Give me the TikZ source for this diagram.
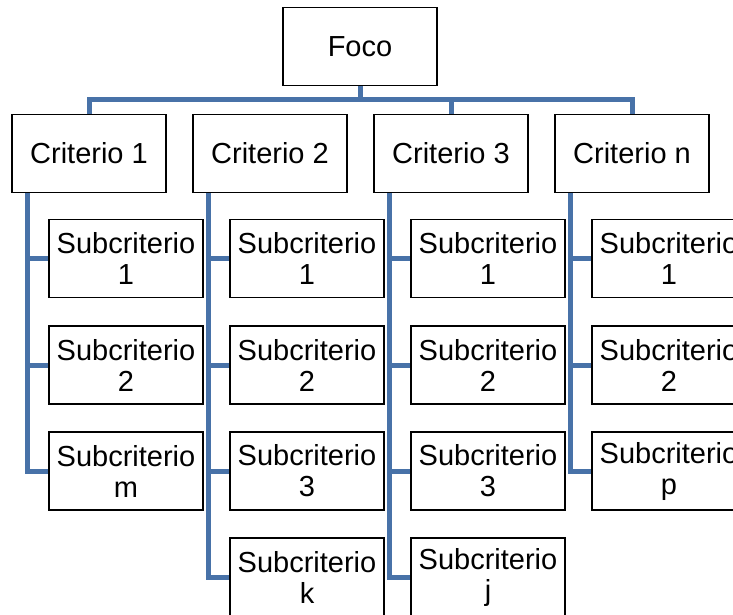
\documentclass[tikz,border=0pt]{standalone}
\usepackage{fontspec}
\setmainfont{Liberation Sans}
\definecolor{connblue}{RGB}{72,114,168}
\tikzset{
  box/.style={draw=black, line width=1.8pt, fill=white, minimum width=154pt, minimum height=78pt, inner sep=0pt, align=center, font=\fontsize{29}{31}\selectfont},
  conn/.style={draw=connblue, line width=5pt}
}
\begin{document}
\begin{tikzpicture}[x=1pt,y=-1pt]
\useasboundingbox (0,0) rectangle (733,615);
\clip (0,0) rectangle (733,615);
% top
\node[box] (foco) at (360,46.5) {Foco};
\node[box] (c1) at (89,153.5) {Criterio 1};
\node[box] (c2) at (270,153.5) {Criterio 2};
\node[box] (c3) at (451,153.5) {Criterio 3};
\node[box] (cn) at (632,153.5) {Criterio n};
\coordinate (bar) at (0,100);
% column 1
\node[box] (s11) at (126,258.5) {Subcriterio\\1};
\node[box] (s12) at (126,365) {Subcriterio\\2};
\node[box] (s1m) at (126,471) {Subcriterio\\m};
% column 2
\node[box] (s21) at (307,258.5) {Subcriterio\\1};
\node[box] (s22) at (307,365) {Subcriterio\\2};
\node[box] (s23) at (307,471) {Subcriterio\\3};
\node[box] (s2k) at (307,577) {Subcriterio\\k};
% column 3
\node[box] (s31) at (488,258.5) {Subcriterio\\1};
\node[box] (s32) at (488,365) {Subcriterio\\2};
\node[box] (s33) at (488,471) {Subcriterio\\3};
\node[box] (s3j) at (488,577) {Subcriterio\\j};
% column 4
\node[box] (s41) at (669,258.5) {Subcriterio\\1};
\node[box] (s42) at (669,365) {Subcriterio\\2};
\node[box] (s4p) at (669,471) {Subcriterio\\p};
% connectors top
\draw[conn] (foco.south) -- (foco.south |- bar);
\draw[conn] (c1.north) -- (c1.north |- bar) -- (cn.north |- bar) -- (cn.north);
\draw[conn] (c3.north |- bar) -- (c3.north);
% column lines
\coordinate (l1) at ([xshift=16pt]c1.south west);
\coordinate (l2) at ([xshift=16pt]c2.south west);
\coordinate (l3) at ([xshift=16pt]c3.south west);
\coordinate (l4) at ([xshift=16pt]cn.south west);
\draw[conn] (l1) |- (s1m.west);
\draw[conn] (s11.west) -- (s11.west -| l1);
\draw[conn] (s12.west) -- (s12.west -| l1);
\draw[conn] (l2) |- (s2k.west);
\draw[conn] (s21.west) -- (s21.west -| l2);
\draw[conn] (s22.west) -- (s22.west -| l2);
\draw[conn] (s23.west) -- (s23.west -| l2);
\draw[conn] (l3) |- (s3j.west);
\draw[conn] (s31.west) -- (s31.west -| l3);
\draw[conn] (s32.west) -- (s32.west -| l3);
\draw[conn] (s33.west) -- (s33.west -| l3);
\draw[conn] (l4) |- (s4p.west);
\draw[conn] (s41.west) -- (s41.west -| l4);
\draw[conn] (s42.west) -- (s42.west -| l4);
\end{tikzpicture}
\end{document}
